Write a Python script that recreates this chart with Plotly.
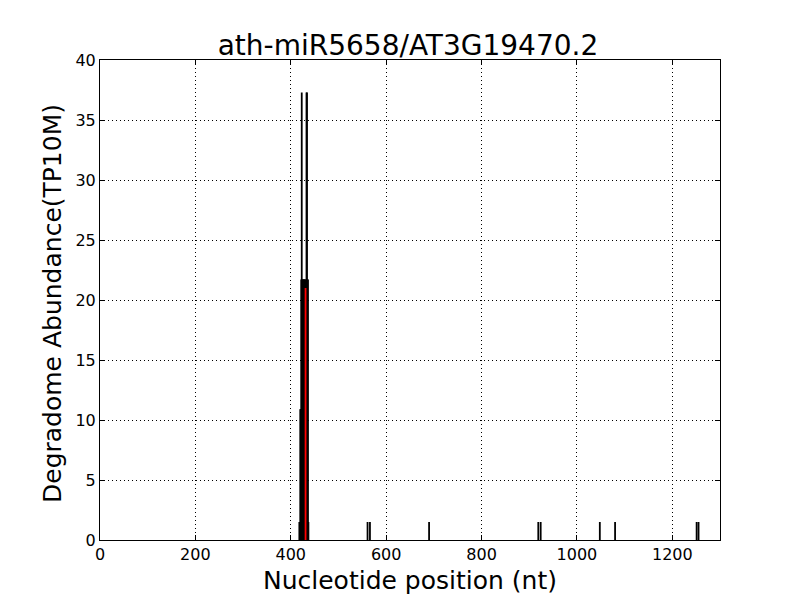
import plotly.graph_objects as go

# degradome reads per nucleotide position (TP10M)
positions = [418, 420, 421, 422, 423, 424, 425, 426, 427, 428, 429, 430, 432, 433, 434, 435, 436, 437,
             561, 566, 690, 919, 924, 1048, 1080, 1251, 1255]
abundance = [1.5, 10.9, 10.9, 21.7, 37.3, 21.7, 21.7, 21.7, 21.7, 21.7, 21.7, 21.7, 21.7, 37.3, 37.3, 21.7, 21.7, 1.5,
             1.5, 1.5, 1.5, 1.5, 1.5, 1.5, 1.5, 1.5, 1.5]

# predicted cleavage site
site_pos = [431]
site_abundance = [21.0]

title = "ath-miR5658/AT3G19470.2"
x_ticks = [0, 200, 400, 600, 800, 1000, 1200]
y_ticks = [0, 5, 10, 15, 20, 25, 30, 35, 40]


def stems(xs, ys):
    # vertical segments from 0 up to each value
    sx, sy = [], []
    for x, y in zip(xs, ys):
        sx += [x, x, None]
        sy += [0, y, None]
    return sx, sy


fig = go.Figure()
bx, by = stems(positions, abundance)
fig.add_trace(go.Scatter(x=bx, y=by, mode="lines", line=dict(color="black", width=1.8),
                         hoverinfo="skip", showlegend=False))
rx, ry = stems(site_pos, site_abundance)
fig.add_trace(go.Scatter(x=rx, y=ry, mode="lines", line=dict(color="red", width=1.8),
                         hoverinfo="skip", showlegend=False))

font = "DejaVu Sans, Liberation Sans, sans-serif"
axis_style = dict(showline=True, linecolor="black", linewidth=1, mirror="ticks",
                  ticks="inside", ticklen=5, tickcolor="black", automargin=False,
                  showgrid=True, gridcolor="black", griddash="1px,3px", gridwidth=1,
                  zeroline=False, tickfont=dict(size=16, color="black"))

# page body adds 8px offset, so margins are shifted to keep the plot box at 100..720 / 60..540
fig.update_layout(
    width=800, height=600,
    paper_bgcolor="white", plot_bgcolor="white",
    margin=dict(l=92, r=88, t=52, b=68),
    font=dict(family=font, color="black"),
    title=dict(text=title, x=0.5, xanchor="center", y=1 - 37 / 600, yanchor="middle",
               font=dict(size=28, color="black")),
)
fig.update_xaxes(range=[0, 1300], tickvals=x_ticks,
                 title=dict(text="Nucleotide position (nt)", font=dict(size=25), standoff=8),
                 **axis_style)
fig.update_yaxes(range=[0, 40], tickvals=y_ticks, **axis_style)
fig.add_annotation(text="Degradome Abundance(TP10M)", textangle=-90, font=dict(size=25),
                   xref="paper", yref="paper", x=0, y=0.5, xanchor="center", yanchor="middle",
                   xshift=-48, yshift=-4, showarrow=False)

fig.write_html("out.html")
